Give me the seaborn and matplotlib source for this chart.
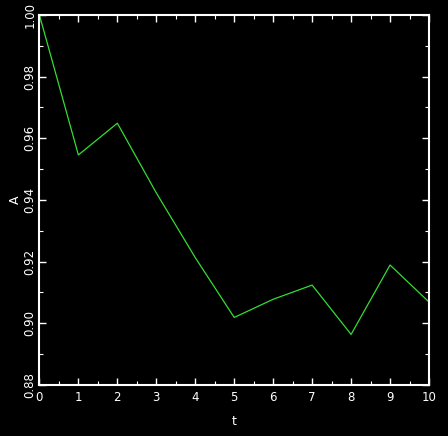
import matplotlib
matplotlib.use("Agg")
import matplotlib.pyplot as plt
import seaborn as sns
import pandas as pd
from matplotlib.ticker import MultipleLocator

t_vals = [0, 1, 2, 3, 4, 5, 6, 7, 8, 9, 10]
a_vals = [1.000, 0.9546, 0.9649, 0.9423, 0.9213, 0.9019, 0.9078, 0.9124, 0.8964, 0.9189, 0.9069]
y_ticks = [0.88, 0.90, 0.92, 0.94, 0.96, 0.98, 1.00]
x_ticks = [0, 1, 2, 3, 4, 5, 6, 7, 8, 9, 10]

sns.set_theme(style="dark")
plt.rcParams['font.family'] = ['DejaVu Sans']

df = pd.DataFrame({"t": t_vals, "A": a_vals})

fig = plt.figure(figsize=(4.48, 4.36), dpi=100, facecolor="black")
ax = fig.add_axes([0.088, 0.117, 0.8696, 0.8487])
ax.set_facecolor("black")

sns.lineplot(data=df, x="t", y="A", ax=ax, color="#33dd33", linewidth=0.9)

ax.set_xlim(0, 10)
ax.set_ylim(0.88, 1.00)
ax.set_xticks(x_ticks)
ax.set_xticklabels([str(v) for v in x_ticks])
ax.set_yticks(y_ticks)
ax.set_yticklabels([f"{v:.2f}" for v in y_ticks], rotation=90, va="center")
ax.xaxis.set_minor_locator(MultipleLocator(0.5))
ax.yaxis.set_minor_locator(MultipleLocator(0.01))
ax.grid(False)

ax.tick_params(axis="both", which="major", direction="in", length=5, width=1,
               colors="white", labelcolor="white", labelsize=8.5,
               top=True, right=True, bottom=True, left=True)
ax.tick_params(axis="both", which="minor", direction="in", length=3, width=0.8,
               colors="white", top=True, right=True, bottom=True, left=True)
ax.tick_params(axis="x", which="major", pad=4)
ax.tick_params(axis="y", which="major", pad=2)

for s in ax.spines.values():
    s.set_visible(True)
    s.set_color("white")
    s.set_linewidth(1.5)

ax.set_xlabel("t", color="white", fontsize=9, labelpad=8)
ax.set_ylabel("A", color="white", fontsize=9, labelpad=1)

fig.savefig("out.png", dpi=100, facecolor="black")
